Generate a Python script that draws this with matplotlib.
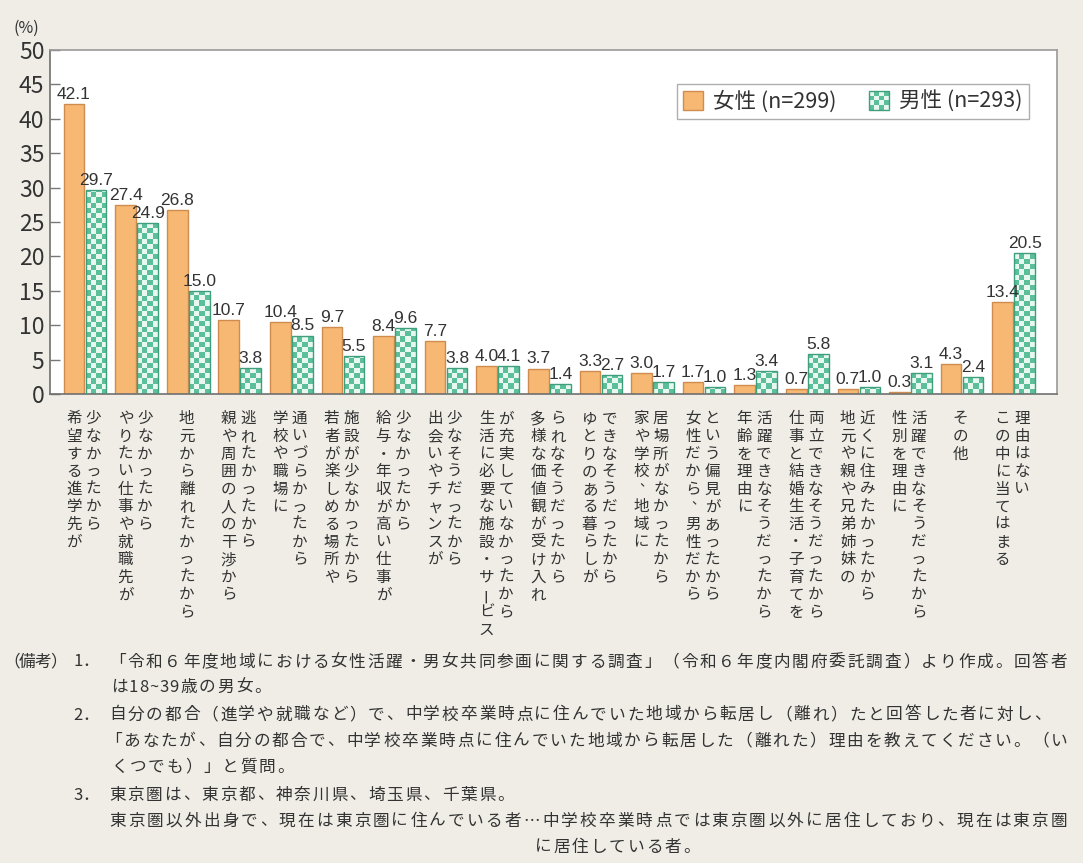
import unicodedata
import numpy as np
import matplotlib
matplotlib.use("Agg")
import matplotlib.pyplot as plt
from matplotlib import font_manager as fm
from matplotlib import transforms as mtrans
from matplotlib.patches import Rectangle
from matplotlib.colors import ListedColormap
from matplotlib.legend_handler import HandlerBase

# ---------------- data ----------------
categories = [
    ["希望する進学先が", "少なかったから"],
    ["やりたい仕事や就職先が", "少なかったから"],
    ["地元から離れたかったから"],
    ["親や周囲の人の干渉から", "逃れたかったから"],
    ["学校や職場に", "通いづらかったから"],
    ["若者が楽しめる場所や", "施設が少なかったから"],
    ["給与・年収が高い仕事が", "少なかったから"],
    ["出会いやチャンスが", "少なそうだったから"],
    ["生活に必要な施設・サービス", "が充実していなかったから"],
    ["多様な価値観が受け入れ", "られなそうだったから"],
    ["ゆとりのある暮らしが", "できなそうだったから"],
    ["家や学校、地域に", "居場所がなかったから"],
    ["女性だから、男性だから", "という偏見があったから"],
    ["年齢を理由に", "活躍できなそうだったから"],
    ["仕事と結婚生活・子育てを", "両立できなそうだったから"],
    ["地元や親や兄弟姉妹の", "近くに住みたかったから"],
    ["性別を理由に", "活躍できなそうだったから"],
    ["その他"],
    ["この中に当てはまる", "理由はない"],
]
female = [42.1, 27.4, 26.8, 10.7, 10.4, 9.7, 8.4, 7.7, 4.0, 3.7, 3.3, 3.0, 1.7, 1.3, 0.7, 0.7, 0.3, 4.3, 13.4]
male = [29.7, 24.9, 15.0, 3.8, 8.5, 5.5, 9.6, 3.8, 4.1, 1.4, 2.7, 1.7, 1.0, 3.4, 5.8, 1.0, 3.1, 2.4, 20.5]
series_labels = ["女性 (n=299)", "男性 (n=293)"]
y_ticks = [0, 5, 10, 15, 20, 25, 30, 35, 40, 45, 50]
y_unit = "(%)"

notes_head = "（備考）"
note_markers = ["1．", None, "2．", None, None, "3．", None, None]
note_lines = [
    "「令和６年度地域における女性活躍・男女共同参画に関する調査」（令和６年度内閣府委託調査）より作成。回答者",
    "は18~39歳の男女。",
    "自分の都合（進学や就職など）で、中学校卒業時点に住んでいた地域から転居し（離れ）たと回答した者に対し、",
    "「あなたが、自分の都合で、中学校卒業時点に住んでいた地域から転居した（離れた）理由を教えてください。（い",
    "くつでも）」と質問。",
    "東京圏は、東京都、神奈川県、埼玉県、千葉県。",
    "東京圏以外出身で、現在は東京圏に住んでいる者…中学校卒業時点では東京圏以外に居住しており、現在は東京圏",
    "に居住している者。",
]

# ---------------- style / layout ----------------
W, H = 1083, 863
BG = "#efede6"
TXT = "#333333"
ORANGE = "#f6b873"
ORANGE_EDGE = "#cf8c4e"
TEAL = "#5bbf9a"
TEAL_LIGHT = "#e8f8f1"
TEAL_EDGE = "#3f9f7c"

note_y = [662, 687, 715, 741, 767, 795, 821, 847]
note_x0 = [108, 110, 108, 104, 110, 108, 108, 534]
note_x1 = [1068, None, None, 1068, None, None, 1068, None]

plt.rcParams["font.family"] = ["Noto Sans CJK JP", "DejaVu Sans"]


def has_font(name):
    try:
        fm.findfont(fm.FontProperties(family=name), fallback_to_default=False)
        return True
    except Exception:
        return False


VAL_FONT = "Liberation Sans Narrow" if has_font("Liberation Sans Narrow") else "Liberation Sans"

fig = plt.figure(figsize=(W / 100, H / 100), dpi=100, facecolor=BG)
ax = fig.add_axes([50 / W, 1 - 394 / H, 1007 / W, 344 / H])
ax.set_facecolor("white")

n = len(female)
x = np.arange(n)
bw = 0.40
off = 0.213
XMIN, XMAX = -0.679, 18.84

bars_f = ax.bar(x - off, female, bw, color=ORANGE, edgecolor=ORANGE_EDGE, linewidth=1.0, zorder=2)
bars_m = ax.bar(x + off, male, bw, color=TEAL_LIGHT, edgecolor="none", linewidth=0, zorder=2)

# checker fill for male bars
cmap = ListedColormap([TEAL_LIGHT, TEAL])
px_per_x = 1007 / (XMAX - XMIN)
px_per_y = 344 / 50
ncol = 4
cell_h = (bw * px_per_x / ncol) / px_per_y
for b in bars_m:
    x0 = b.get_x()
    h = b.get_height()
    rows = int(np.ceil(h / cell_h)) + 1
    arr = (np.add.outer(np.arange(rows), np.arange(ncol)) % 2).astype(float)
    im = ax.imshow(arr, extent=(x0, x0 + bw, 0, rows * cell_h), origin="lower",
                   cmap=cmap, vmin=0, vmax=1, interpolation="nearest", aspect="auto", zorder=2.5)
    im.set_clip_path(b)
ax.bar(x + off, male, bw, color="none", edgecolor=TEAL_EDGE, linewidth=1.0, zorder=3)

ax.set_xlim(XMIN, XMAX)
ax.set_ylim(0, 50)
ax.set_yticks(y_ticks)
ax.set_xticks([])
ax.tick_params(axis="y", direction="in", length=7, width=1, color="#777777",
               labelsize=16.5, labelcolor=TXT, pad=4)
for s in ax.spines.values():
    s.set_color("#9a9a9a")
    s.set_linewidth(1.2)
ax.spines["left"].set_color("#707070")
ax.spines["bottom"].set_color("#707070")

# value labels
for bars, vals in ((bars_f, female), (bars_m, male)):
    for b, v in zip(bars, vals):
        ax.annotate(f"{v:.1f}", (b.get_x() + b.get_width() / 2, v), xytext=(0, 1.5),
                    textcoords="offset points", ha="center", va="bottom",
                    fontsize=12.5, color=TXT, family=VAL_FONT, zorder=5)

fig.text(26 / W, 1 - 28 / H, y_unit, ha="center", va="center", fontsize=11.5, color=TXT)

# vertical category labels
blend = mtrans.blended_transform_factory(ax.transData, fig.transFigure)
col_gap = 19.5
pitch = 17.6
y_start = 410
for i, cols in enumerate(categories):
    k = len(cols)
    for j, line in enumerate(cols):
        dx = (j - (k - 1) / 2) * col_gap - 1.5
        for ci, ch in enumerate(line):
            cx, cy = dx, 0.0
            rot = 0
            size = 11.2
            if ch == "ー":
                rot = 90
            if ch in "、。":
                cx += 5
                cy += 6
                size = 9.5
            t = mtrans.ScaledTranslation(cx / 100, cy / 100, fig.dpi_scale_trans)
            yy = 1 - (y_start + ci * pitch + pitch / 2) / H
            ax.text(i, yy, ch, transform=blend + t, ha="center", va="center",
                    fontsize=size, color=TXT, rotation=rot, rotation_mode="anchor")


# legend with checker handle
class CheckerHandler(HandlerBase):
    def create_artists(self, legend, orig_handle, xdescent, ydescent, width, height, fontsize, trans):
        arts = []
        nn = 4
        cw, chh = width / nn, height / nn
        for a in range(nn):
            for b in range(nn):
                c = TEAL if (a + b) % 2 == 0 else TEAL_LIGHT
                arts.append(Rectangle((-xdescent + a * cw, -ydescent + b * chh), cw, chh,
                                      facecolor=c, edgecolor="none", transform=trans))
        arts.append(Rectangle((-xdescent, -ydescent), width, height, facecolor="none",
                              edgecolor=TEAL_EDGE, linewidth=1.0, transform=trans))
        return arts


h_f = Rectangle((0, 0), 1, 1, facecolor=ORANGE, edgecolor=ORANGE_EDGE, linewidth=1.0)
h_m = Rectangle((0, 0), 1, 1)
leg = fig.legend([h_f, h_m], series_labels, handler_map={h_m: CheckerHandler()},
                 loc="upper right", bbox_to_anchor=(1029 / W, 1 - 84 / H), ncol=2,
                 fontsize=15.5, frameon=True, fancybox=False, edgecolor="#9a9a9a",
                 handlelength=0.95, handleheight=0.95, handletextpad=0.45,
                 columnspacing=1.5, borderpad=0.3, borderaxespad=0, labelcolor=TXT)
leg.get_frame().set_linewidth(1.0)
leg.get_frame().set_facecolor("white")


# notes (drawn character by character, justified like the original)
def char_w(c):
    return 1.0 if unicodedata.east_asian_width(c) in ("W", "F", "A") else 0.55


def draw_line(s, x0, y, x1=None, size=12, pitch_=18.5):
    ws = [char_w(c) for c in s]
    if x1 is not None:
        pitch_ = (x1 - x0) / sum(ws)
    cur = x0
    for c, w in zip(s, ws):
        fig.text((cur + w * pitch_ / 2) / W, 1 - y / H, c, ha="center", va="center",
                 fontsize=size, color=TXT)
        cur += w * pitch_


draw_line(notes_head, 4, note_y[0], pitch_=15.5)
for marker, text, yy, xa, xb in zip(note_markers, note_lines, note_y, note_x0, note_x1):
    if marker:
        draw_line(marker, 74, yy, pitch_=16)
    draw_line(text, xa, yy, xb)

fig.savefig("out.png", dpi=100, facecolor=BG)
